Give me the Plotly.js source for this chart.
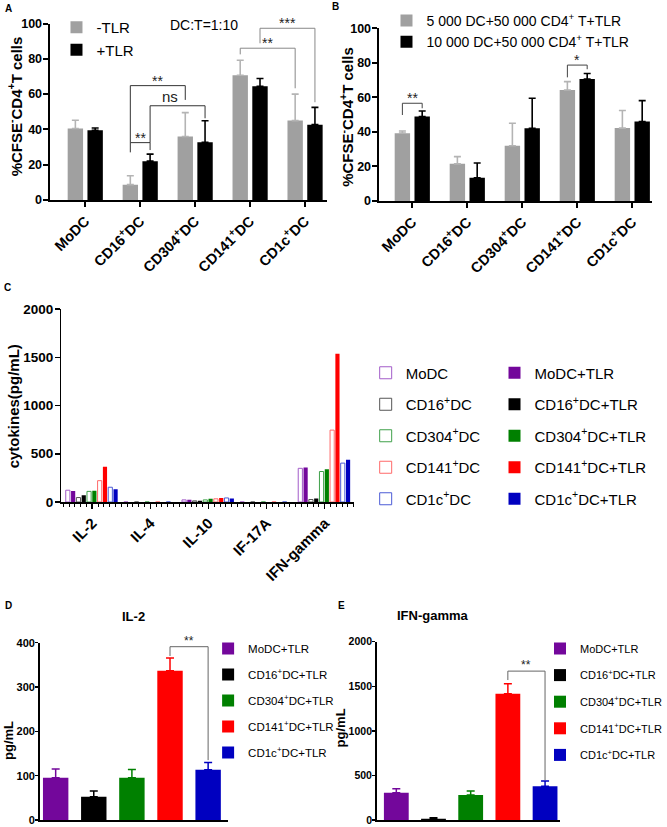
<!DOCTYPE html>
<html><head><meta charset="utf-8">
<script src="https://cdn.plot.ly/plotly-3.0.1.min.js"></script>
<style>html,body{margin:0;padding:0;background:#fff}</style>
</head><body><div id="chart" style="width:667px;height:827px"></div>
<script>
// ---------- DATA ----------
// Panels A and B
const dcTypes = ['MoDC', 'CD16<sup>+</sup>DC', 'CD304<sup>+</sup>DC', 'CD141<sup>+</sup>DC', 'CD1c<sup>+</sup>DC'];
const aNoTLR = [40.5, 8.7, 36.0, 70.7, 45.0];
const aNoTLRErr = [4.7, 5.0, 13.5, 8.5, 15.0];
const aTLR = [39.5, 22.0, 32.7, 64.4, 42.7];
const aTLRErr = [1.3, 4.0, 12.2, 4.4, 9.8];
const b5000 = [39.3, 21.5, 32.0, 64.3, 42.2];
const b5000Err = [1.2, 4.2, 13.0, 4.8, 10.2];
const b10000 = [48.9, 13.5, 42.1, 70.6, 46.0];
const b10000Err = [3.2, 8.5, 17.4, 3.2, 12.1];
// Panel C
const cytokines = ['IL-2', 'IL-4', 'IL-10', 'IF-17A', 'IFN-gamma'];
const cMoDC      = [122, 0, 22, 0, 349];
const cMoDCTLR   = [115, 0, 24, 0, 357];
const cCD16      = [46, 0, 12, 0, 26];
const cCD16TLR   = [71, 0, 14, 0, 36];
const cCD304     = [110, 0, 22, 0, 316];
const cCD304TLR  = [117, 0, 33, 0, 340];
const cCD141     = [221, 0, 33, 0, 745];
const cCD141TLR  = [366, 0, 42, 0, 1535];
const cCD1c      = [153, 0, 42, 0, 403];
const cCD1cTLR   = [133, 0, 35, 0, 438];
// Panels D and E
const tlrCells = ['MoDC+TLR', 'CD16<sup>+</sup>DC+TLR', 'CD304<sup>+</sup>DC+TLR', 'CD141<sup>+</sup>DC+TLR', 'CD1c<sup>+</sup>DC+TLR'];
const il2 = [95.5, 52.6, 95.5, 336.8, 113.5];
const il2Err = [19.5, 12.8, 18.5, 28.6, 16.5];
const ifng = [306, 15, 280, 1417, 378];
const ifngErr = [45, 11, 45, 112, 60];

// ---------- STYLE ----------
const FONT = 'Liberation Sans, Arial, sans-serif';
const W = 667, H = 827;
const px = v => v / W;
const py = v => 1 - v / H;
const dom = (a, b) => [a / W, b / W];
const domY = (top, bottom) => [1 - bottom / H, 1 - top / H];

const fillColors = ['#73079b', '#000000', '#008000', '#ff0000', '#0000c0'];
const openColors = ['#a35cc9', '#555555', '#3fa04a', '#ff6a6a', '#4b5bd6'];
const zeros = a => a.map(() => 0);

const traces = [];
// Panel A / B
const GW = 0.28, OFF_L = -0.32, OFF_R = 0.04;
function pairTraces(ySeries, errSeries, names, xa, ya, leg) {
  const cols = ['#a0a0a0', '#000000'];
  const errCols = ['#b4b4b4', '#000000'];
  const offs = [OFF_L, OFF_R];
  ySeries.forEach((ys, k) => {
    traces.push({
      type: 'bar', x: dcTypes, y: ys, name: names[k], xaxis: xa, yaxis: ya, legend: leg,
      offset: offs[k], width: GW, marker: { color: cols[k] },
      error_y: { type: 'data', symmetric: false, array: errSeries[k], arrayminus: zeros(errSeries[k]),
                 color: errCols[k], thickness: 1.6, width: 3.5 },
      hoverinfo: 'skip'
    });
  });
}
pairTraces([aNoTLR, aTLR], [aNoTLRErr, aTLRErr], ['-TLR', '+TLR'], 'x', 'y', 'legend');
pairTraces([b5000, b10000], [b5000Err, b10000Err],
  ['5 000 DC+50 000 CD4<sup>+</sup> T+TLR', '10 000 DC+50 000 CD4<sup>+</sup> T+TLR'], 'x2', 'y2', 'legend2');

// Panel C
const cSeries = [cMoDC, cMoDCTLR, cCD16, cCD16TLR, cCD304, cCD304TLR, cCD141, cCD141TLR, cCD1c, cCD1cTLR];
const cNames = ['MoDC', 'MoDC+TLR', 'CD16<sup>+</sup>DC', 'CD16<sup>+</sup>DC+TLR', 'CD304<sup>+</sup>DC',
  'CD304<sup>+</sup>DC+TLR', 'CD141<sup>+</sup>DC', 'CD141<sup>+</sup>DC+TLR', 'CD1c<sup>+</sup>DC', 'CD1c<sup>+</sup>DC+TLR'];
const C_SLOT = 0.0913, C_BW = 0.0718, C_START = -0.456;
cSeries.forEach((ys, k) => {
  const cell = Math.floor(k / 2), filled = k % 2 === 1;
  traces.push({
    type: 'bar', x: cytokines.map((_, i) => i), y: ys, name: cNames[k], xaxis: 'x3', yaxis: 'y3',
    legend: filled ? 'legend4' : 'legend3', legendgroup: 'c' + k,
    offset: C_START + k * C_SLOT, width: C_BW,
    marker: filled ? { color: fillColors[cell], line: { width: 0 } }
                   : { color: '#ffffff', line: { color: openColors[cell], width: 1 } },
    hoverinfo: 'skip'
  });
});

// Panels D / E
function tlrTraces(vals, errs, xa, ya, leg) {
  vals.forEach((v, i) => {
    traces.push({
      type: 'bar', x: [tlrCells[i]], y: [v], name: tlrCells[i], xaxis: xa, yaxis: ya,
      legend: leg, legendgroup: leg + i, offset: -0.333, width: 0.667,
      marker: { color: fillColors[i] },
      error_y: { type: 'data', symmetric: false, array: [errs[i]], arrayminus: [0],
                 color: fillColors[i], thickness: 1.5, width: 4 },
      hoverinfo: 'skip'
    });
  });
}
tlrTraces(il2, il2Err, 'x4', 'y4', 'legend5');
tlrTraces(ifng, ifngErr, 'x5', 'y5', 'legend6');

// ---------- LAYOUT ----------
const axisBase = { showgrid: false, zeroline: false, showline: true, linecolor: '#000', ticks: 'outside',
  tickcolor: '#000', fixedrange: true, ticklabeloverflow: 'allow' };
const boldFont = (size) => ({ family: FONT, size: size, weight: 'bold', color: '#000' });

const layout = {
  width: W, height: H, margin: { l: 0, r: 0, t: 0, b: 0 }, paper_bgcolor: '#fff', plot_bgcolor: 'rgba(0,0,0,0)',
  barmode: 'group', font: { family: FONT, color: '#000' }, hovermode: false,
  xaxis: { ...axisBase, anchor: 'y', domain: dom(50, 330), type: 'category', categoryorder: 'array',
    categoryarray: dcTypes, range: [-0.65, 4.4], linewidth: 2, tickwidth: 2, ticklen: 5, tickangle: -45,
    tickfont: boldFont(14.5) },
  yaxis: { ...axisBase, anchor: 'x', domain: domY(23.5, 200), range: [0, 100], tick0: 0, dtick: 20,
    linewidth: 2, tickwidth: 2, ticklen: 5, tickfont: boldFont(12.5), ticklabelstandoff: -2 },
  xaxis2: { ...axisBase, anchor: 'y2', domain: dom(382, 658), type: 'category', categoryorder: 'array',
    categoryarray: dcTypes, range: [-0.613, 4.36], linewidth: 2, tickwidth: 2, ticklen: 5, tickangle: -45,
    tickfont: boldFont(14.5) },
  yaxis2: { ...axisBase, anchor: 'x2', domain: domY(28.3, 201), range: [0, 100], tick0: 0, dtick: 20,
    linewidth: 2, tickwidth: 2, ticklen: 5, tickfont: boldFont(12.5), ticklabelstandoff: -2 },
  xaxis3: { ...axisBase, anchor: 'y3', domain: dom(62, 357), type: 'linear', range: [-0.53, 4.5],
    tickmode: 'array', tickvals: cytokines.map((_, i) => i), ticktext: cytokines,
    linewidth: 1.5, tickwidth: 1.5, ticklen: 5, tickangle: -45, tickfont: boldFont(15),
    minor: { tickmode: 'linear', tick0: 0, dtick: 0.1, ticks: 'outside', ticklen: 3, tickwidth: 1, tickcolor: '#000' } },
  yaxis3: { ...axisBase, anchor: 'x3', domain: domY(309, 502), range: [0, 2000], tick0: 0, dtick: 500,
    linewidth: 1.5, tickwidth: 1.5, ticklen: 5, tickfont: boldFont(13.5), ticklabelstandoff: -1 },
  xaxis4: { ...axisBase, anchor: 'y4', domain: dom(40, 230), type: 'category', categoryorder: 'array',
    categoryarray: tlrCells, range: [-0.42, 4.52], linewidth: 1.5, ticks: '', showticklabels: false },
  yaxis4: { ...axisBase, anchor: 'x4', domain: domY(642.7, 820), range: [0, 400], tick0: 0, dtick: 100,
    linewidth: 1.5, tickwidth: 1.5, ticklen: 3, tickfont: boldFont(11), ticklabelstandoff: -2 },
  xaxis5: { ...axisBase, anchor: 'y5', domain: dom(380, 565), type: 'category', categoryorder: 'array',
    categoryarray: tlrCells, range: [-0.53, 4.4], linewidth: 1.5, ticks: '', showticklabels: false },
  yaxis5: { ...axisBase, anchor: 'x5', domain: domY(641.7, 820), range: [0, 2000], tick0: 0, dtick: 500,
    linewidth: 1.5, tickwidth: 1.5, ticklen: 3, tickfont: boldFont(10.5), ticklabelstandoff: -2 },
  showlegend: true
};

const legendBase = { bgcolor: 'rgba(0,0,0,0)', borderwidth: 0, xanchor: 'left', yanchor: 'top',
  orientation: 'v', itemclick: false, itemdoubleclick: false, traceorder: 'grouped' };
layout.legend  = { ...legendBase, x: px(57),  y: py(11),    font: { family: FONT, size: 15, color: '#000' } };
layout.legend2 = { ...legendBase, x: px(390), y: py(5),     font: { family: FONT, size: 14, color: '#000' } };
layout.legend3 = { ...legendBase, x: px(369), y: py(356.5), font: { family: FONT, size: 15, color: '#000' }, tracegroupgap: 9 };
layout.legend4 = { ...legendBase, x: px(499), y: py(356.5), font: { family: FONT, size: 15, color: '#000' }, tracegroupgap: 9 };
layout.legend5 = { ...legendBase, x: px(210), y: py(634),   font: { family: FONT, size: 11.5, color: '#000' }, tracegroupgap: 7 };
layout.legend6 = { ...legendBase, x: px(545), y: py(634),   font: { family: FONT, size: 11, color: '#000' }, tracegroupgap: 7.6 };

// ---------- ANNOTATIONS ----------
const shapes = [];
const annotations = [];
function bracket(xa, ya, xL, xR, top, endL, endR, label, color, size, yshift) {
  const base = { type: 'line', xref: xa, yref: ya, line: { color: color, width: 1 } };
  shapes.push({ ...base, x0: xL, x1: xL, y0: endL, y1: top });
  shapes.push({ ...base, x0: xL, x1: xR, y0: top, y1: top });
  shapes.push({ ...base, x0: xR, x1: xR, y0: top, y1: endR });
  if (label) annotations.push({ xref: xa, yref: ya, x: (xL + xR) / 2, y: top, text: label, showarrow: false,
    yanchor: 'middle', yshift: yshift, font: { family: FONT, size: size, color: '#222' } });
}
const cL = i => i + OFF_L + GW / 2;
const cR = i => i + OFF_R + GW / 2;
// Panel A
bracket('x', 'y', cL(1), cR(1), 32.5, 27.0, 28.3, '**', '#333', 14, 5);
bracket('x', 'y', cL(1), cL(2), 64.8, 32.5, 56.7, '**', '#333', 14, 5);
bracket('x', 'y', cR(1), cR(2), 53.4, 32.5, 46.3, '', '#333');
annotations.push({ xref: 'x', yref: 'y', x: 1.55, y: 58.5, text: 'ns', showarrow: false, yanchor: 'middle',
  font: { family: FONT, size: 15, color: '#222' } });
bracket('x', 'y', cL(3), cL(4), 86.0, 82.5, 63.3, '**', '#888', 14, 5);
bracket('x', 'y', cR(3), cR(4), 97.3, 88.8, 55.4, '***', '#888', 14, 5);
annotations.push({ xref: 'paper', yref: 'paper', x: px(206), y: py(25), text: 'DC:T=1:10', showarrow: false,
  xanchor: 'center', yanchor: 'middle', font: { family: FONT, size: 14, color: '#000' } });
// Panel B
bracket('x2', 'y2', cL(0), cR(0), 56.6, 49.8, 53.7, '**', '#444', 14, 5);
bracket('x2', 'y2', cL(3), cR(3), 78.7, 71.6, 76.3, '*', '#444', 14, 5);
// Panels D, E
bracket('x4', 'y4', 3, 4, 391, 370, 135, '**', '#666', 12, 6);
bracket('x5', 'y5', 3, 4, 1670, 1570, 448, '**', '#666', 12, 6);

// y-axis titles
const yTitles = [
  ['%CFSE<sup>-</sup>CD4<sup>+</sup>T cells', 14.5, 106, 15],
  ['%CFSE<sup>-</sup>CD4<sup>+</sup>T cells', 349, 117, 15],
  ['cytokines(pg/mL)', 14.5, 406, 15],
  ['pg/mL', 8, 740, 13],
  ['pg/mL', 343.5, 728, 13]
];
yTitles.forEach(([t, x, y, s]) => {
  annotations.push({ xref: 'paper', yref: 'paper', x: px(x), y: py(y), text: t, textangle: -90, showarrow: false,
    xanchor: 'center', yanchor: 'middle', font: boldFont(s) });
});
// panel titles
annotations.push({ xref: 'x4 domain', yref: 'paper', x: 0.5, y: py(616), text: 'IL-2', showarrow: false,
  yanchor: 'middle', font: boldFont(13) });
annotations.push({ xref: 'paper', yref: 'paper', x: px(475), y: py(615), text: 'IFN-gamma', showarrow: false,
  yanchor: 'middle', font: boldFont(13) });
// panel letters
[['A', 8.5, 8.5], ['B', 338.5, 7], ['C', 8, 288], ['D', 8.5, 605], ['E', 345, 605]].forEach(([t, x, y]) => {
  annotations.push({ xref: 'paper', yref: 'paper', x: px(x), y: py(y), text: t, showarrow: false,
    xanchor: 'center', yanchor: 'middle', font: boldFont(10) });
});

layout.shapes = shapes;
layout.annotations = annotations;

Plotly.newPlot('chart', traces, layout, { displayModeBar: false, staticPlot: true });
</script>
</body></html>
